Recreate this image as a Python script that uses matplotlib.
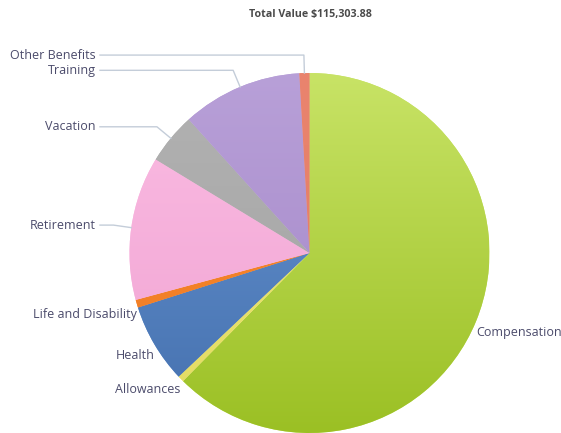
import numpy as np
import matplotlib
matplotlib.use("Agg")
import matplotlib.pyplot as plt
from matplotlib.colors import to_rgb

# benefit categories, clockwise from 12 o'clock
categories = ["Compensation", "Allowances", "Health", "Life and Disability",
              "Retirement", "Vacation", "Training", "Other Benefits"]
shares = [62.4, 0.55, 7.15, 0.7, 12.9, 4.6, 10.8, 0.9]
# slice colours, light at the top of the pie, darker at the bottom
top_colors = ["#c8e366", "#efe97c", "#6796d3", "#f88b30",
              "#fbbce3", "#b2b2b2", "#b8a0d8", "#ea846e"]
bottom_colors = ["#9bc024", "#e3db62", "#4570ae", "#ef7a22",
                 "#f0a3d2", "#a2a2a2", "#a385c7", "#e07a64"]
# labels with a leader line off to the left
leader_labels = ["Retirement", "Vacation", "Training", "Other Benefits"]
title = "Total Value $115,303.88"

W, H = 561, 433
fig = plt.figure(figsize=(W / 100, H / 100), dpi=100)
ax = fig.add_axes([0, 0, 1, 1])

cx, cy, R = 309.5, H - 253, 180
wedges, _ = ax.pie(shares, colors=top_colors, startangle=90, counterclock=False,
                   center=(cx, cy), radius=R, frame=True,
                   wedgeprops=dict(linewidth=0))

# vertical shading on each slice
yy = np.linspace(0, 1, 256)[:, None, None]
for w, ct, cb in zip(wedges, top_colors, bottom_colors):
    t = np.array(to_rgb(ct))[None, None, :]
    b = np.array(to_rgb(cb))[None, None, :]
    grad = np.repeat(b * (1 - yy) + t * yy, 2, axis=1)
    im = ax.imshow(grad, extent=(cx - R, cx + R, cy - R, cy + R), origin="lower",
                   aspect="auto", zorder=w.get_zorder() + 0.1)
    im.set_clip_path(w)

ax.set_xlim(0, W)
ax.set_ylim(0, H)
ax.axis("off")

txt_color = "#4b4b6b"
line_color = "#c4cdd9"
for w, name in zip(wedges, categories):
    mid = np.deg2rad((w.theta1 + w.theta2) / 2)
    ex, ey = cx + R * np.cos(mid), cy + R * np.sin(mid)
    if name in leader_labels:
        kx, ky = cx + 1.1 * R * np.cos(mid), cy + 1.1 * R * np.sin(mid)
        ax.plot([ex, kx, 100], [ey, ky, ky], color=line_color, lw=1.0, zorder=5)
        ax.text(96, ky, name, ha="right", va="center", fontsize=9,
                color=txt_color, family="Open Sans")
    else:
        ha = "left" if np.cos(mid) > 0 else "right"
        ax.text(ex, ey - 11, name, ha=ha, va="center", fontsize=9,
                color=txt_color, family="Open Sans")

ax.text(310, H - 14, title, ha="center", va="center", fontsize=7.7,
        color="#4a4a4a", fontweight="bold", family="Open Sans")

fig.savefig("out.png", dpi=100)
